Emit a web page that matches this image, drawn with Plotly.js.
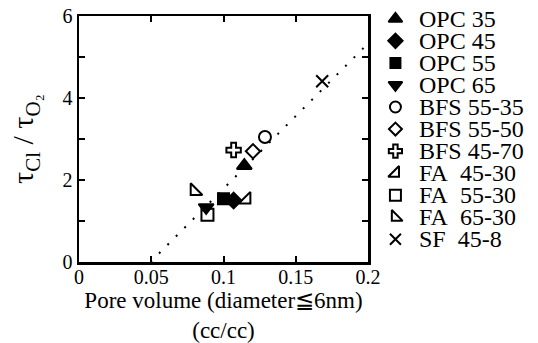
<!DOCTYPE html>
<html>
<head>
<meta charset="utf-8">
<script src="https://cdn.plot.ly/plotly-3.0.1.min.js"></script>
<style>html,body{margin:0;padding:0;background:#fff;}#chart{width:538px;height:343px;}</style>
</head>
<body>
<div id="chart"></div>
<script>
// ---- data ----
const seriesNames = ['OPC 35','OPC 45','OPC 55','OPC 65','BFS 55-35','BFS 55-50','BFS 45-70','FA\u00a0\u00a045-30','FA\u00a0\u00a055-30','FA\u00a0\u00a065-30','SF\u00a0\u00a045-8'];
const poreVolume = [0.1144, 0.107, 0.100, 0.088, 0.1287, 0.1204, 0.107, 0.1159, 0.0889, 0.080, 0.1683];
const tauRatio   = [2.35, 1.50, 1.54, 1.33, 3.05, 2.70, 2.73, 1.52, 1.15, 1.73, 4.41];
const fitX = [0.0495, 0.2];
const fitY = [0, 5.33];
const xTickVals = [0, 0.05, 0.1, 0.15, 0.2];
const xTickText = ['0', '0.05', '0.1', '0.15', '0.2'];
const yTickVals = [0, 2, 4, 6];
const yTickText = ['0', '2', '4', '6'];

// ---- styles ----
const symbols = ['triangle-up','diamond','square','triangle-down','circle-open','diamond-open','cross-open','triangle-se-open','square-open','triangle-sw-open','x-thin-open'];
const sizes   = [13, 12, 11, 13, 12, 11, 12, 13, 12, 13, 12];
const FONT = "'Liberation Serif', 'Times New Roman', Times, serif";

const traces = [];
// fit line
traces.push({x: fitX, y: fitY, mode: 'lines', xaxis: 'x', yaxis: 'y', showlegend: false,
  line: {color: '#000', width: 2, dash: '2px,10px'}, hoverinfo: 'skip'});
// data points
seriesNames.forEach((n, i) => {
  traces.push({x: [poreVolume[i]], y: [tauRatio[i]], mode: 'markers', name: n, showlegend: false,
    xaxis: 'x', yaxis: 'y',
    marker: {symbol: symbols[i], size: sizes[i], color: '#000', line: {color: '#000', width: 2}}});
});
// legend symbols (auxiliary invisible axes)
seriesNames.forEach((n, i) => {
  traces.push({x: [0.5], y: [i], mode: 'markers', showlegend: false, hoverinfo: 'skip',
    xaxis: 'x2', yaxis: 'y2',
    marker: {symbol: symbols[i], size: sizes[i] - 1, color: '#000', line: {color: '#000', width: 2}}});
});

const annotations = seriesNames.map((n, i) => ({
  text: n, xref: 'paper', yref: 'y2', x: 417/538, y: i, xanchor: 'left', yanchor: 'middle',
  showarrow: false, font: {family: FONT, size: 24, color: '#000'}
}));

const W = 538, H = 343;
const layout = {
  width: W, height: H,
  margin: {l: 0, r: 0, t: 0, b: 0},
  paper_bgcolor: '#fff', plot_bgcolor: '#fff',
  font: {family: FONT, color: '#000'},
  showlegend: false,
  xaxis: {
    domain: [79/W, 368/W], range: [0, 0.2], tickvals: xTickVals, ticktext: xTickText,
    ticks: 'inside', ticklen: 6, tickwidth: 2, tickcolor: '#000', ticklabelstandoff: -5,
    showline: true, linewidth: 2.5, linecolor: '#000', mirror: 'ticks',
    showgrid: false, zeroline: false, tickfont: {family: FONT, size: 20, color: '#000'},
    title: {text: 'Pore volume (diameter≦6nm)<br>(cc/cc)', font: {family: FONT, size: 23, color: '#000'}, standoff: 8},
    anchor: 'y', fixedrange: true
  },
  yaxis: {
    domain: [1 - 262/H, 1 - 16/H], range: [0, 6], tickvals: yTickVals, ticktext: yTickText,
    ticks: 'inside', ticklen: 6, tickwidth: 2, tickcolor: '#000',
    minor: {tickvals: [1, 3, 5], ticks: 'inside', ticklen: 6, tickwidth: 2, tickcolor: '#000'},
    showline: true, linewidth: 2.5, linecolor: '#000', mirror: 'ticks',
    showgrid: false, zeroline: false, tickfont: {family: FONT, size: 20, color: '#000'},
    title: {text: 'τ<sub>Cl</sub> / τ<sub>O₂</sub>', font: {family: FONT, size: 30, color: '#000'}, standoff: 20},
    anchor: 'x', fixedrange: true
  },
  xaxis2: {domain: [0.70, 0.77], range: [0, 1], visible: false, anchor: 'y2', fixedrange: true},
  yaxis2: {domain: [0, 1], range: [(H - 18.8)/22.05, -18.8/22.05], visible: false, anchor: 'x2', fixedrange: true},
  annotations: annotations
};

Plotly.newPlot('chart', traces, layout, {staticPlot: true, displayModeBar: false});
</script>
</body>
</html>
